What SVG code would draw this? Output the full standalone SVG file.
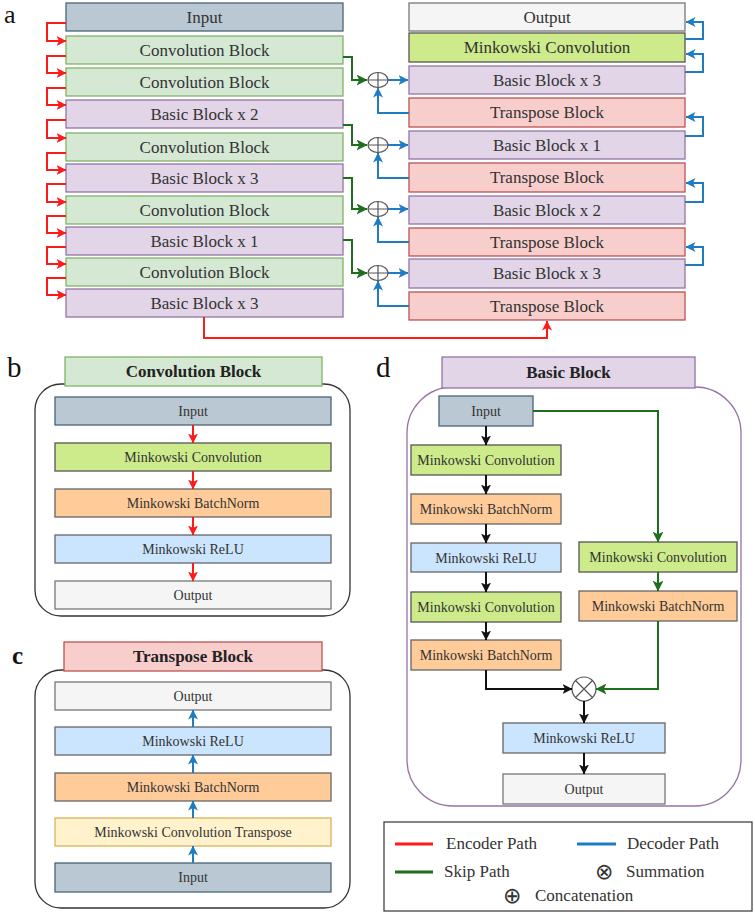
<svg xmlns="http://www.w3.org/2000/svg" width="755" height="914" viewBox="0 0 755 914">
<defs>
<style>
text{font-family:"Liberation Serif","Times New Roman",serif;fill:#333;text-anchor:middle}
.a17{font-size:17px}
.t14{font-size:14px}
.tb{font-size:17px;font-weight:bold;fill:#222}
.lbl{font-size:29px;fill:#111;text-anchor:start}
.leg{font-size:17px;text-anchor:start;fill:#333}
.inp{fill:#bac8d3;stroke:#4a6478;stroke-width:1.3}
.conv{fill:#d5e8d4;stroke:#82b366;stroke-width:1.3}
.basic{fill:#e1d5e7;stroke:#9673a6;stroke-width:1.3}
.out{fill:#f5f5f5;stroke:#777;stroke-width:1.3}
.mc{fill:#cdeb8b;stroke:#555;stroke-width:1.3}
.tr{fill:#f8cecc;stroke:#b85450;stroke-width:1.3}
.bn{fill:#ffcc99;stroke:#666;stroke-width:1.3}
.relu{fill:#cce5ff;stroke:#666;stroke-width:1.3}
.ct{fill:#fff2cc;stroke:#d6b656;stroke-width:1.3}
.r{fill:none;stroke:#ff1a1a;stroke-width:2}
.b{fill:none;stroke:#1f7cc0;stroke-width:2}
.g{fill:none;stroke:#1e6e1e;stroke-width:2}
.k{fill:none;stroke:#111;stroke-width:2}
.sym{fill:#fff;stroke:#555;stroke-width:1.2}
</style>
<marker id="mr" viewBox="0 0 10 10" refX="9.5" refY="5" markerWidth="10" markerHeight="10" markerUnits="userSpaceOnUse" orient="auto"><path d="M0,0 L10,5 L0,10 L2.5,5 z" fill="#ff1a1a"/></marker>
<marker id="mb" viewBox="0 0 10 10" refX="9.5" refY="5" markerWidth="10" markerHeight="10" markerUnits="userSpaceOnUse" orient="auto"><path d="M0,0 L10,5 L0,10 L2.5,5 z" fill="#1f7cc0"/></marker>
<marker id="mg" viewBox="0 0 10 10" refX="9.5" refY="5" markerWidth="11" markerHeight="11" markerUnits="userSpaceOnUse" orient="auto"><path d="M0,0 L10,5 L0,10 L2.5,5 z" fill="#1e6e1e"/></marker>
<marker id="mk" viewBox="0 0 10 10" refX="9.5" refY="5" markerWidth="10" markerHeight="10" markerUnits="userSpaceOnUse" orient="auto"><path d="M0,0 L10,5 L0,10 L2.5,5 z" fill="#111"/></marker>
</defs>
<rect width="755" height="914" fill="#fff"/>

<!-- panel labels -->
<text class="lbl" x="4" y="23" style="font-size:26px">a</text>
<text class="lbl" x="7" y="377">b</text>
<text class="lbl" x="12" y="664" style="font-weight:bold;font-size:25px">c</text>
<text class="lbl" x="376" y="377">d</text>

<!-- Panel a: encoder column -->
<g id="a-enc-input"><rect class="inp" x="66" y="3" width="277" height="28"/><text class="a17" x="204.5" y="22.5">Input</text></g>
<g id="a-enc-conv1"><rect class="conv" x="66" y="36" width="277" height="28"/><text class="a17" x="204.5" y="55.5">Convolution Block</text></g>
<g id="a-enc-conv2"><rect class="conv" x="66" y="68" width="277" height="28"/><text class="a17" x="204.5" y="87.5">Convolution Block</text></g>
<g id="a-enc-basic2"><rect class="basic" x="66" y="100" width="277" height="28"/><text class="a17" x="204.5" y="119.5">Basic Block x 2</text></g>
<g id="a-enc-conv3"><rect class="conv" x="66" y="133" width="277" height="28"/><text class="a17" x="204.5" y="152.5">Convolution Block</text></g>
<g id="a-enc-basic3"><rect class="basic" x="66" y="164" width="277" height="28"/><text class="a17" x="204.5" y="183.5">Basic Block x 3</text></g>
<g id="a-enc-conv4"><rect class="conv" x="66" y="196" width="277" height="28"/><text class="a17" x="204.5" y="215.5">Convolution Block</text></g>
<g id="a-enc-basic1"><rect class="basic" x="66" y="227" width="277" height="28"/><text class="a17" x="204.5" y="246.5">Basic Block x 1</text></g>
<g id="a-enc-conv5"><rect class="conv" x="66" y="258" width="277" height="28"/><text class="a17" x="204.5" y="277.5">Convolution Block</text></g>
<g id="a-enc-basic3b"><rect class="basic" x="66" y="289" width="277" height="28"/><text class="a17" x="204.5" y="308.5">Basic Block x 3</text></g>

<!-- Panel a: decoder column -->
<g id="a-dec-output"><rect class="out" x="409" y="3" width="276" height="28"/><text class="a17" x="547" y="22.5">Output</text></g>
<g id="a-dec-mconv"><rect class="mc" x="409" y="33" width="276" height="29"/><text class="a17" x="547" y="53">Minkowski Convolution</text></g>
<g id="a-dec-basic3"><rect class="basic" x="409" y="66" width="276" height="28"/><text class="a17" x="547" y="85.5">Basic Block x 3</text></g>
<g id="a-dec-tr1"><rect class="tr" x="409" y="98" width="276" height="29"/><text class="a17" x="547" y="118">Transpose Block</text></g>
<g id="a-dec-basic1"><rect class="basic" x="409" y="131" width="276" height="28"/><text class="a17" x="547" y="150.5">Basic Block x 1</text></g>
<g id="a-dec-tr2"><rect class="tr" x="409" y="163" width="276" height="29"/><text class="a17" x="547" y="183">Transpose Block</text></g>
<g id="a-dec-basic2"><rect class="basic" x="409" y="196" width="276" height="28"/><text class="a17" x="547" y="215.5">Basic Block x 2</text></g>
<g id="a-dec-tr3"><rect class="tr" x="409" y="228" width="276" height="28"/><text class="a17" x="547" y="247.5">Transpose Block</text></g>
<g id="a-dec-basic3b"><rect class="basic" x="409" y="259" width="276" height="29"/><text class="a17" x="547" y="279">Basic Block x 3</text></g>
<g id="a-dec-tr4"><rect class="tr" x="409" y="292" width="276" height="28"/><text class="a17" x="547" y="311.5">Transpose Block</text></g>

<!-- concatenation nodes -->
<g id="a-cat1"><ellipse class="sym" cx="378" cy="80" rx="10" ry="7.5"/><path d="M368,80 H388 M378,72.5 V87.5" stroke="#555" stroke-width="1.2"/></g>
<g id="a-cat2"><ellipse class="sym" cx="378" cy="145" rx="10" ry="7.5"/><path d="M368,145 H388 M378,137.5 V152.5" stroke="#555" stroke-width="1.2"/></g>
<g id="a-cat3"><ellipse class="sym" cx="378" cy="209" rx="10" ry="7.5"/><path d="M368,209 H388 M378,201.5 V216.5" stroke="#555" stroke-width="1.2"/></g>
<g id="a-cat4"><ellipse class="sym" cx="378" cy="273" rx="10" ry="7.5"/><path d="M368,273 H388 M378,265.5 V280.5" stroke="#555" stroke-width="1.2"/></g>

<!-- Panel a connectors -->
<g id="a-connectors">
<path class="r" marker-end="url(#mr)" d="M66,23 H47 V41 H66"/>
<path class="r" marker-end="url(#mr)" d="M66,56 H47 V73 H66"/>
<path class="r" marker-end="url(#mr)" d="M66,88 H47 V105 H66"/>
<path class="r" marker-end="url(#mr)" d="M66,120 H47 V138 H66"/>
<path class="r" marker-end="url(#mr)" d="M66,153 H47 V170 H66"/>
<path class="r" marker-end="url(#mr)" d="M66,184 H47 V202 H66"/>
<path class="r" marker-end="url(#mr)" d="M66,216 H47 V233 H66"/>
<path class="r" marker-end="url(#mr)" d="M66,247 H47 V264 H66"/>
<path class="r" marker-end="url(#mr)" d="M66,278 H47 V295 H66"/>
<path class="r" marker-end="url(#mr)" d="M204,317 V338 H547 V321"/>
<path class="g" marker-end="url(#mg)" d="M343,57 H352 V80 H367"/>
<path class="g" marker-end="url(#mg)" d="M343,125 H352 V145 H367"/>
<path class="g" marker-end="url(#mg)" d="M343,178 H352 V209 H367"/>
<path class="g" marker-end="url(#mg)" d="M343,240 H352 V273 H367"/>
<path class="b" marker-end="url(#mb)" d="M388,80 H408"/>
<path class="b" marker-end="url(#mb)" d="M388,145 H408"/>
<path class="b" marker-end="url(#mb)" d="M388,209 H408"/>
<path class="b" marker-end="url(#mb)" d="M388,273 H408"/>
<path class="b" marker-end="url(#mb)" d="M409,113 H378 V88"/>
<path class="b" marker-end="url(#mb)" d="M409,178 H378 V153"/>
<path class="b" marker-end="url(#mb)" d="M409,242 H378 V217"/>
<path class="b" marker-end="url(#mb)" d="M409,306 H378 V281"/>
<path class="b" marker-end="url(#mb)" d="M685,39 H703 V22 H686"/>
<path class="b" marker-end="url(#mb)" d="M685,72 H703 V54 H686"/>
<path class="b" marker-end="url(#mb)" d="M685,136 H703 V117 H686"/>
<path class="b" marker-end="url(#mb)" d="M685,202 H703 V183 H686"/>
<path class="b" marker-end="url(#mb)" d="M685,265 H703 V247 H686"/>
</g>

<!-- Panel b -->
<g id="b-container"><rect x="35" y="384" width="315" height="232" rx="26" fill="#fff" stroke="#333" stroke-width="1.3"/></g>
<g id="b-title"><rect class="conv" x="65" y="357" width="257" height="29"/><text class="tb" x="193.5" y="377">Convolution Block</text></g>
<g id="b-input"><rect class="inp" x="55" y="397" width="276" height="28"/><text class="t14" x="193" y="415.5">Input</text></g>
<g id="b-mconv"><rect class="mc" x="55" y="443" width="276" height="28"/><text class="t14" x="193" y="461.5">Minkowski Convolution</text></g>
<g id="b-bn"><rect class="bn" x="55" y="489" width="276" height="28"/><text class="t14" x="193" y="507.5">Minkowski BatchNorm</text></g>
<g id="b-relu"><rect class="relu" x="55" y="535" width="276" height="28"/><text class="t14" x="193" y="553.5">Minkowski ReLU</text></g>
<g id="b-output"><rect class="out" x="55" y="581" width="276" height="28"/><text class="t14" x="193" y="599.5">Output</text></g>
<g id="b-connectors">
<path class="r" marker-end="url(#mr)" d="M193,425 V443"/>
<path class="r" marker-end="url(#mr)" d="M193,471 V489"/>
<path class="r" marker-end="url(#mr)" d="M193,517 V535"/>
<path class="r" marker-end="url(#mr)" d="M193,563 V581"/>
</g>

<!-- Panel c -->
<g id="c-container"><rect x="35" y="670" width="315" height="238" rx="26" fill="#fff" stroke="#333" stroke-width="1.3"/></g>
<g id="c-title"><rect class="tr" x="64" y="642" width="258" height="29"/><text class="tb" x="193" y="662">Transpose Block</text></g>
<g id="c-output"><rect class="out" x="55" y="682" width="276" height="28"/><text class="t14" x="193" y="700.5">Output</text></g>
<g id="c-relu"><rect class="relu" x="55" y="727" width="276" height="28"/><text class="t14" x="193" y="745.5">Minkowski ReLU</text></g>
<g id="c-bn"><rect class="bn" x="55" y="773" width="276" height="28"/><text class="t14" x="193" y="791.5">Minkowski BatchNorm</text></g>
<g id="c-ct"><rect class="ct" x="55" y="818" width="276" height="28"/><text class="t14" x="193" y="836.5">Minkowski Convolution Transpose</text></g>
<g id="c-input"><rect class="inp" x="55" y="863" width="276" height="29"/><text class="t14" x="193" y="882">Input</text></g>
<g id="c-connectors">
<path class="b" marker-end="url(#mb)" d="M193,863 V846"/>
<path class="b" marker-end="url(#mb)" d="M193,818 V801"/>
<path class="b" marker-end="url(#mb)" d="M193,773 V755"/>
<path class="b" marker-end="url(#mb)" d="M193,727 V710"/>
</g>

<!-- Panel d -->
<g id="d-container"><rect x="407" y="387" width="334" height="419" rx="46" fill="#fff" stroke="#9673a6" stroke-width="1.3"/></g>
<g id="d-title"><rect class="basic" x="442" y="357" width="253" height="31"/><text class="tb" x="568.5" y="378">Basic Block</text></g>
<g id="d-input"><rect class="inp" x="439" y="396" width="94" height="30"/><text class="t14" x="486" y="416">Input</text></g>
<g id="d-mconv1"><rect class="mc" x="411" y="445" width="150" height="30"/><text class="t14" x="486" y="465">Minkowski Convolution</text></g>
<g id="d-bn1"><rect class="bn" x="411" y="494" width="150" height="30"/><text class="t14" x="486" y="514">Minkowski BatchNorm</text></g>
<g id="d-relu1"><rect class="relu" x="411" y="543" width="150" height="29"/><text class="t14" x="486" y="562.5">Minkowski ReLU</text></g>
<g id="d-mconv2"><rect class="mc" x="411" y="592" width="150" height="30"/><text class="t14" x="486" y="612">Minkowski Convolution</text></g>
<g id="d-bn2"><rect class="bn" x="411" y="640" width="150" height="30"/><text class="t14" x="486" y="660">Minkowski BatchNorm</text></g>
<g id="d-mconv3"><rect class="mc" x="579" y="542" width="158" height="30"/><text class="t14" x="658" y="562">Minkowski Convolution</text></g>
<g id="d-bn3"><rect class="bn" x="579" y="591" width="158" height="30"/><text class="t14" x="658" y="611">Minkowski BatchNorm</text></g>
<g id="d-sum"><circle class="sym" cx="584" cy="689" r="12"/><path d="M575.5,680.5 L592.5,697.5 M592.5,680.5 L575.5,697.5" stroke="#555" stroke-width="1.2"/></g>
<g id="d-relu2"><rect class="relu" x="503" y="723" width="162" height="30"/><text class="t14" x="584" y="743">Minkowski ReLU</text></g>
<g id="d-output"><rect class="out" x="503" y="774" width="162" height="30"/><text class="t14" x="584" y="794">Output</text></g>
<g id="d-connectors">
<path class="k" marker-end="url(#mk)" d="M486,426 V445"/>
<path class="k" marker-end="url(#mk)" d="M486,475 V494"/>
<path class="k" marker-end="url(#mk)" d="M486,524 V543"/>
<path class="k" marker-end="url(#mk)" d="M486,572 V592"/>
<path class="k" marker-end="url(#mk)" d="M486,622 V640"/>
<path class="k" marker-end="url(#mk)" d="M486,670 V689 H572"/>
<path class="k" marker-end="url(#mk)" d="M584,701 V723"/>
<path class="k" marker-end="url(#mk)" d="M584,753 V774"/>
<path class="g" marker-end="url(#mg)" d="M533,411 H658 V542"/>
<path class="g" marker-end="url(#mg)" d="M658,572 V591"/>
<path class="g" marker-end="url(#mg)" d="M658,621 V689 H596"/>
</g>

<!-- Legend -->
<g id="legend">
<rect x="384" y="822" width="368" height="89" fill="#fff" stroke="#333" stroke-width="1.2"/>
<line x1="395" y1="844" x2="433" y2="844" stroke="#ff1a1a" stroke-width="3"/>
<text class="leg" x="446" y="849">Encoder Path</text>
<line x1="577" y1="844" x2="616" y2="844" stroke="#1f7cc0" stroke-width="3"/>
<text class="leg" x="627" y="849">Decoder Path</text>
<line x1="395" y1="872" x2="433" y2="872" stroke="#1e6e1e" stroke-width="3"/>
<text class="leg" x="444" y="877">Skip Path</text>
<text class="leg" x="595" y="879" style="font-family:'DejaVu Sans',sans-serif;font-size:22px">⊗</text>
<text class="leg" x="626" y="877">Summation</text>
<text class="leg" x="503" y="903" style="font-family:'DejaVu Sans',sans-serif;font-size:22px">⊕</text>
<text class="leg" x="535" y="901">Concatenation</text>
</g>
</svg>
